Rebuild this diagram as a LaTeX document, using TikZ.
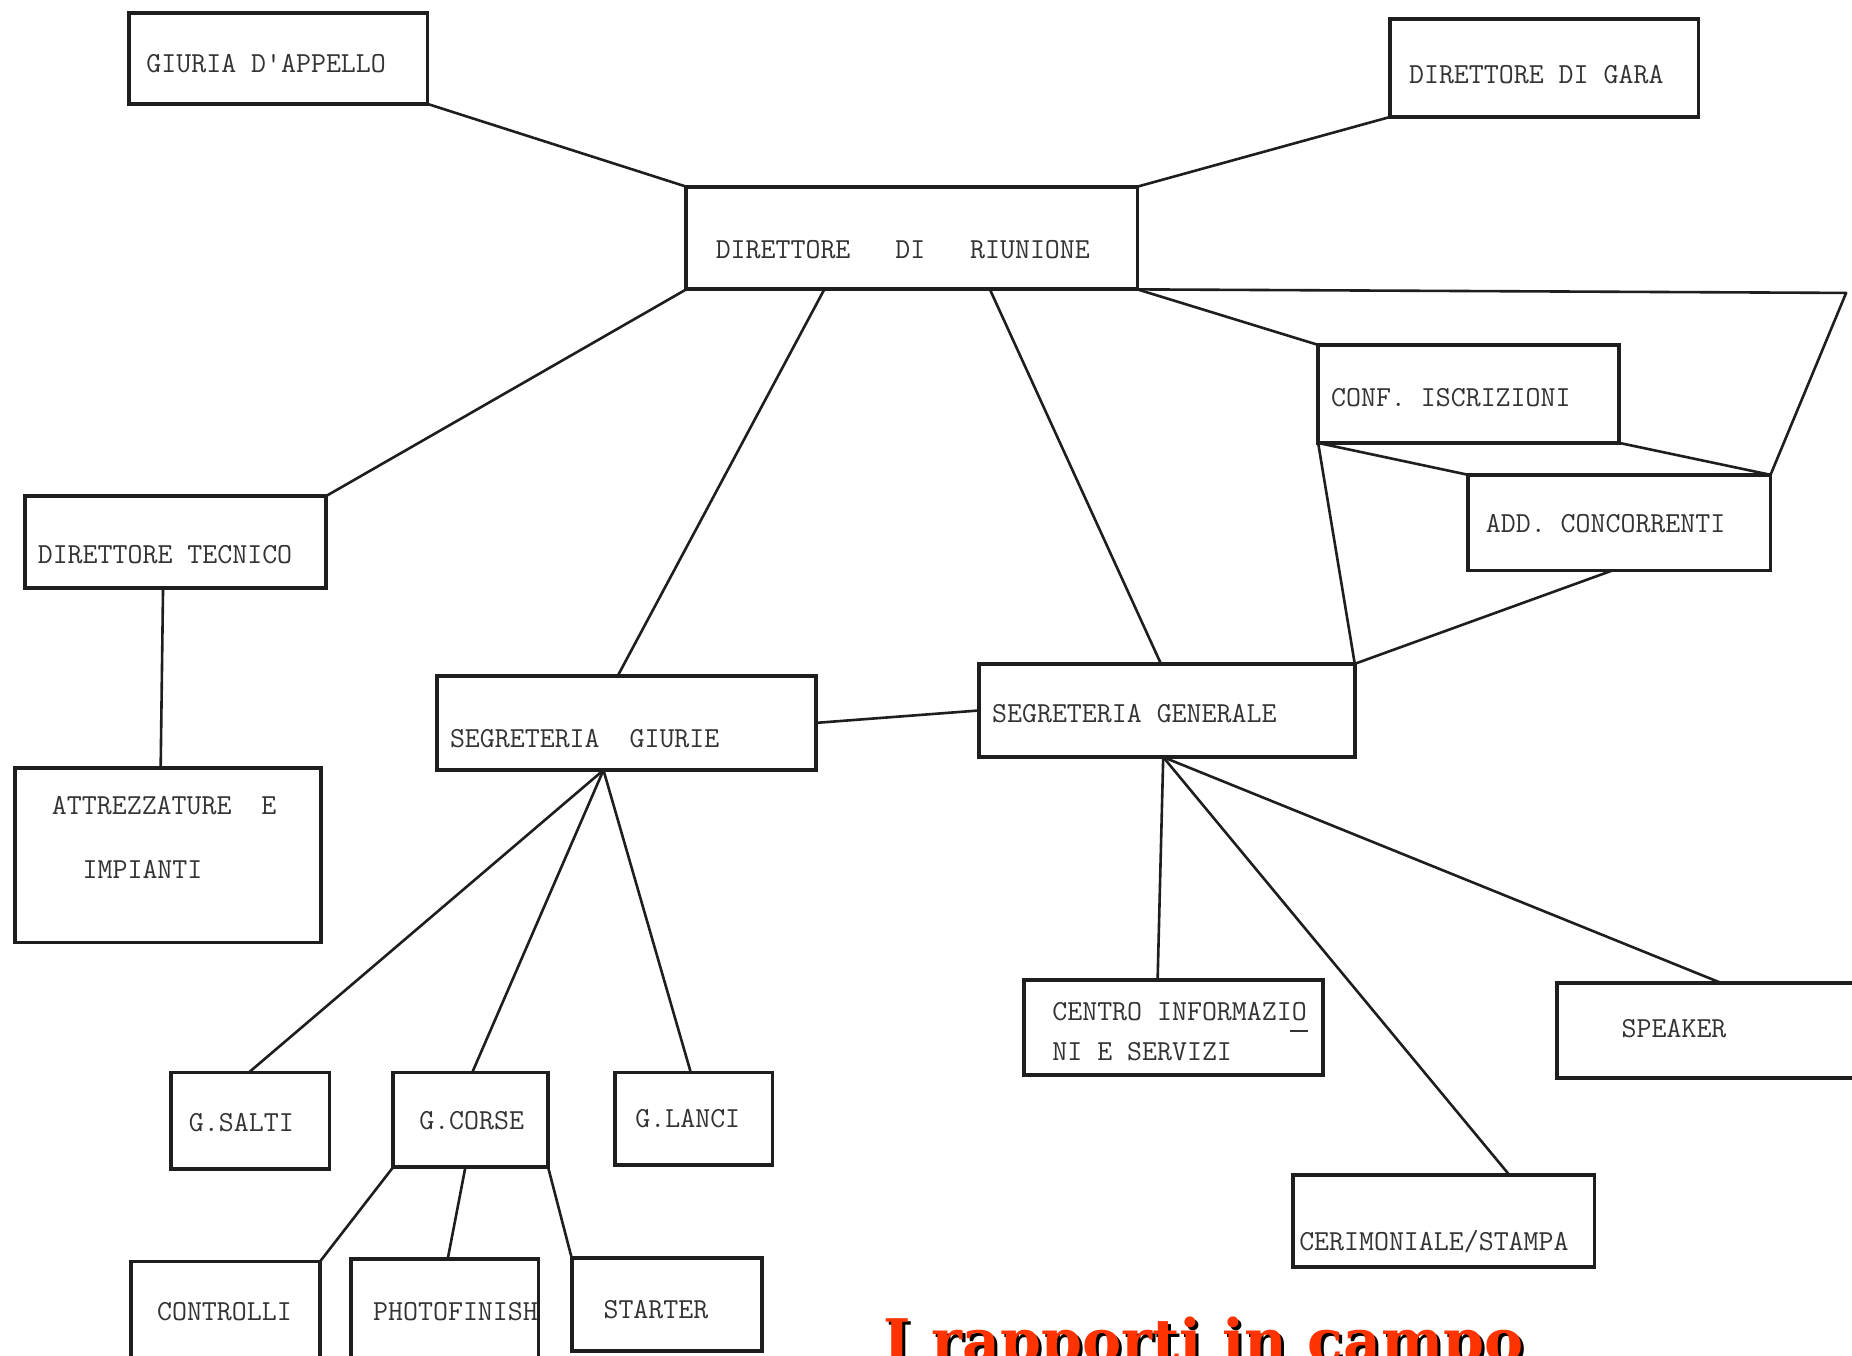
\documentclass[tikz,border=0pt]{standalone}
\usepackage{fontspec}
\newfontfamily\titlefont{DejaVu Serif}
\usetikzlibrary{calc,fit}
\definecolor{ink}{HTML}{1E1E1E}
\definecolor{typ}{HTML}{333333}
\definecolor{titlered}{HTML}{FF3300}
\begin{document}
\begin{tikzpicture}[x=0.5pt,y=-0.5pt,
  box/.style={draw=ink, line width=1.6pt, inner sep=0pt, outer sep=0pt, rectangle},
  link/.style={draw=ink, line width=1.1pt, line cap=round, line join=round},
  lbl/.style={anchor=base west, inner sep=0pt, outer sep=0pt, text=typ, font=\fontsize{12.3}{15}\selectfont\ttfamily},
  titletext/.style={anchor=base west, inner sep=0pt, outer sep=0pt, font=\titlefont\bfseries\fontsize{24.85}{28}\selectfont}]
\useasboundingbox (0,0) rectangle (1568,1148);
\fill[white] (0,0) rectangle (1568,1148);
\clip (0,0) rectangle (1568,1148);

% ---------- boxes ----------
\node[box, fit={(109,11) (362,88)}] (giuria) {};
\node[box, fit={(1177,16) (1438,99)}] (gara) {};
\node[box, fit={(581,158) (963,245)}] (riunione) {};
\node[box, fit={(1116,292) (1371,375)}] (conf) {};
\node[box, fit={(1243,402) (1499,483)}] (add) {};
\node[box, fit={(21,420) (276,498)}] (tecnico) {};
\node[box, fit={(370,572) (691,652)}] (seggiu) {};
\node[box, fit={(829,562) (1147,641)}] (seggen) {};
\node[box, fit={(13,650) (272,798)}] (attr) {};
\node[box, fit={(145,908) (279,990)}] (salti) {};
\node[box, fit={(333,908) (464,988)}] (corse) {};
\node[box, fit={(521,908) (654,986)}] (lanci) {};
\node[box, fit={(111,1068) (271,1170)}] (controlli) {};
\node[box, fit={(297,1066) (456,1170)}] (photo) {};
\node[box, fit={(484,1065) (645,1144)}] (starter) {};
\node[box, fit={(867,830) (1120,910)}] (centro) {};
\node[box, fit={(1318,832) (1610,913)}] (speaker) {};
\node[box, fit={(1095,995) (1350,1073)}] (cerim) {};

\coordinate (rcorner) at (1563,248);

% ---------- connectors ----------
\draw[link] (giuria.south east) -- (riunione.north west);
\draw[link] (gara.south west) -- (riunione.north east);
\draw[link] (riunione.south west) -- (tecnico.north east);
\draw[link] ($(riunione.south west)!0.306!(riunione.south east)$) -- ($(seggiu.north west)!0.477!(seggiu.north east)$);
\draw[link] ($(riunione.south west)!0.673!(riunione.south east)$) -- ($(seggen.north west)!0.484!(seggen.north east)$);
\draw[link] (riunione.south east) -- (conf.north west);
\draw[link] (riunione.south east) -- (rcorner) -- (add.north east);
\draw[link] (conf.south west) -- (add.north west);
\draw[link] (conf.south east) -- (add.north east);
\draw[link] (conf.south west) -- (seggen.north east);
\draw[link] ($(add.south west)!0.477!(add.south east)$) -- (seggen.north east);
\draw[link] ($(tecnico.south west)!0.459!(tecnico.south east)$) -- ($(attr.north west)!0.475!(attr.north east)$);
\draw[link] (seggiu.east) -- (seggen.west);
\coordinate (sgb) at ($(seggiu.south west)!0.439!(seggiu.south east)$);
\draw[link] (sgb) -- ($(salti.north west)!0.49!(salti.north east)$);
\draw[link] (sgb) -- ($(corse.north west)!0.51!(corse.north east)$);
\draw[link] (sgb) -- ($(lanci.north west)!0.48!(lanci.north east)$);
\draw[link] (corse.south west) -- (controlli.north east);
\draw[link] ($(corse.south west)!0.466!(corse.south east)$) -- ($(photo.north west)!0.516!(photo.north east)$);
\draw[link] (corse.south east) -- (starter.north west);
\coordinate (sgnb) at ($(seggen.south west)!0.49!(seggen.south east)$);
\draw[link] (sgnb) -- ($(centro.north west)!0.447!(centro.north east)$);
\draw[link] (sgnb) -- ($(cerim.north west)!0.718!(cerim.north east)$);
\draw[link] (sgnb) -- ($(speaker.north west)!0.475!(speaker.north east)$);

% ---------- texts ----------
\node[lbl] (t-giuria) at (124,61) {GIURIA D\textquotesingle APPELLO};
\node[lbl] (t-gara) at (1193,71) {DIRETTORE DI GARA};
\node[lbl] (t-riunione) at (606,219) {DIRETTORE~~~DI~~~RIUNIONE};
\node[lbl] (t-conf) at (1127,344) {CONF.~ISCRIZIONI};
\node[lbl] (t-add) at (1258,451) {ADD. CONCORRENTI};
\node[lbl] (t-tecnico) at (32,477) {DIRETTORE TECNICO};
\node[lbl] (t-seggiu) at (381,633) {SEGRETERIA~~GIURIE};
\node[lbl] (t-seggen) at (840,612) {SEGRETERIA GENERALE};
\node[lbl] (t-attr1) at (44,690) {ATTREZZATURE~~E};
\node[lbl] (t-attr2) at (70,744) {IMPIANTI};
\node[lbl] (t-salti) at (160,958) {G.SALTI};
\node[lbl] (t-corse) at (355,956) {G.CORSE};
\node[lbl] (t-lanci) at (538,955) {G.LANCI};
\node[lbl] (t-controlli) at (133,1118) {CONTROLLI};
\begin{scope}
\clip (photo.south west) rectangle (photo.north east);
\node[lbl] (t-photo) at (316,1118) {PHOTOFINISH};
\end{scope}
\node[lbl] (t-starter) at (511,1116) {STARTER};
\node[lbl] (t-centro1) at (891,864) {CENTRO INFORMAZIO};
\node[lbl] (t-centro2) at (891,898) {NI E SERVIZI};
\draw[typ, line width=1pt] ($(t-centro1.base east)+(-14,9)$) -- ($(t-centro1.base east)+(1,9)$);
\node[lbl] (t-speaker) at (1373,878) {SPEAKER};
\node[lbl] (t-cerim) at (1100,1059) {CERIMONIALE/STAMPA};

% ---------- title ----------
\node[titletext, text=black] (title-shadow) at (750.5,1155.5) {I rapporti in campo};
\node[titletext, text=titlered] (title) at (748,1153) {I rapporti in campo};
\end{tikzpicture}
\end{document}
